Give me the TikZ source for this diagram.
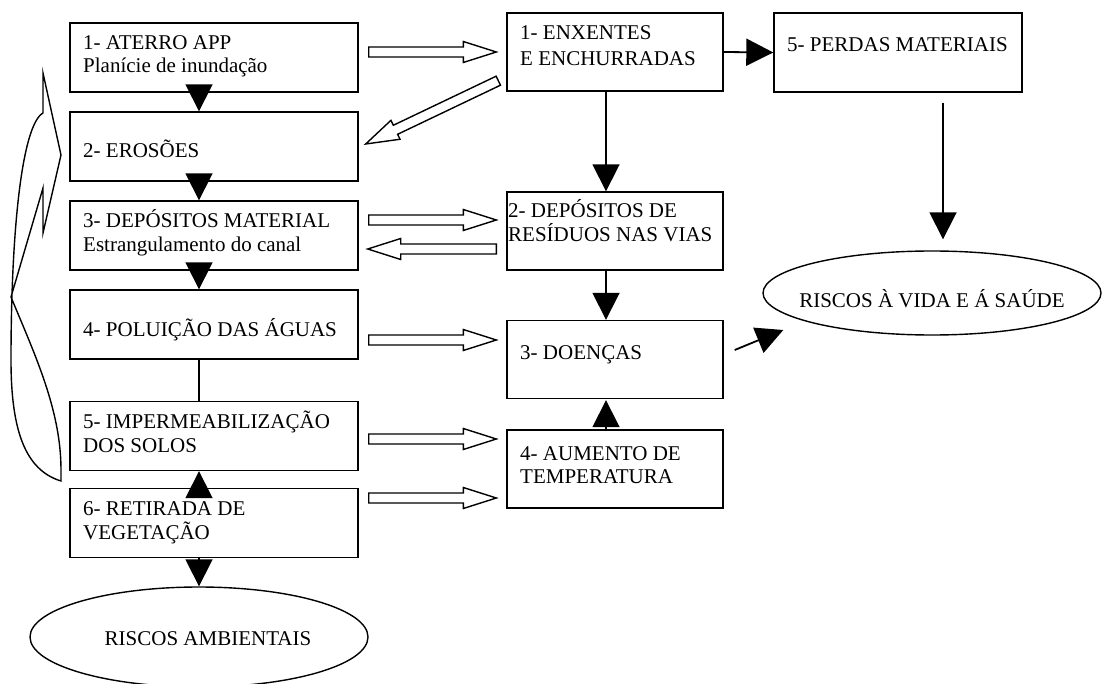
\documentclass[tikz,border=0pt]{standalone}
\usepackage{fontspec}
\setmainfont{Liberation Serif}
\usetikzlibrary{arrows.meta,calc,shapes.geometric}
\newcommand\myharrow[2]{%
  \coordinate (hb) at ($(#2)!33pt!(#1)$);
  \draw[hollow] ($(#1)!5pt!90:(#2)$) -- ($(hb)!5pt!-90:(#1)$) -- ($(hb)!10.5pt!-90:(#1)$) -- (#2)
    -- ($(hb)!10.5pt!90:(#1)$) -- ($(hb)!5pt!90:(#1)$) -- ($(#1)!5pt!-90:(#2)$) -- cycle;}
\begin{document}
\begin{tikzpicture}[x=1pt,y=-1pt,
  lbox/.style={draw,line width=1.4pt,inner sep=0pt,minimum width=288pt,minimum height=69pt},
  mbox/.style={draw,line width=1.4pt,inner sep=0pt,minimum width=216pt,minimum height=78pt},
  oval/.style={draw,line width=1.4pt,ellipse,inner sep=0pt,minimum width=338pt},
  lbl/.style={font=\fontsize{21}{24}\selectfont,inner sep=0pt,anchor=base west},
  clbl/.style={font=\fontsize{21}{24}\selectfont,inner sep=0pt,anchor=base},
  blk/.style={line width=1.8pt,-{Triangle[length=27pt,width=27pt]}},
  hollow/.style={draw,line width=1.4pt,fill=white,line join=miter},
  plain/.style={line width=1.4pt}]
\useasboundingbox (0,0) rectangle (1102,684);

% left column
\node[lbox] (L1) at (214,57.5) {};
\node[lbox] (L2) at (214,146.5) {};
\node[lbox] (L3) at (214,235.5) {};
\node[lbox] (L4) at (214,324.5) {};
\node[lbox] (L5) at (214,436) {};
\node[lbox] (L6) at (214,523) {};
\node[oval,minimum height=100pt] (LE) at (199,637) {};

% middle column
\node[mbox] (M1) at (615,52) {};
\node[mbox] (M2) at (615,231) {};
\node[mbox] (M3) at (615,359.5) {};
\node[mbox] (M4) at (615,469) {};

% right
\node[draw,line width=1.4pt,inner sep=0pt,minimum width=248pt,minimum height=79pt] (R) at (898,52.5) {};
\node[oval,minimum height=84pt] (RE) at (932,293) {};

% texts
\node[lbl] (t1a) at (83,50) {1- ATERRO APP};
\node[lbl] (t1b) at (83,73) {Planície de inundação};
\node[lbl] (t2) at (83,158) {2- EROSÕES};
\node[lbl] (t3a) at (83,228) {3- DEPÓSITOS MATERIAL};
\node[lbl] (t3b) at (83,252) {Estrangulamento do canal};
\node[lbl] (t4) at (83,337) {4- POLUIÇÃO DAS ÁGUAS};
\node[lbl] (t5a) at (83,428) {5- IMPERMEABILIZAÇÃO};
\node[lbl] (t5b) at (83,452) {DOS SOLOS};
\node[lbl] (t6a) at (83,515) {6- RETIRADA DE};
\node[lbl] (t6b) at (83,539) {VEGETAÇÃO};
\node[clbl] (tle) at (208,645) {RISCOS AMBIENTAIS};

\node[lbl] (m1a) at (520,40) {1- ENXENTES};
\node[lbl] (m1b) at (520,66) {E ENCHURRADAS};
\node[lbl] (m2a) at (508,218) {2- DEPÓSITOS DE};
\node[lbl] (m2b) at (508,242) {RESÍDUOS NAS VIAS};
\node[lbl] (m3) at (520,359) {3- DOENÇAS};
\node[lbl] (m4a) at (520,460) {4- AUMENTO DE};
\node[lbl] (m4b) at (520,483) {TEMPERATURA};
\node[lbl] (r1) at (787,52) {5- PERDAS MATERIAIS};
\node[clbl] (tre) at (932,308) {RISCOS À VIDA E Á SAÚDE};

% black arrows, left column
\draw[blk] ($(L1.south)+(-15,-8)$) -- ($(L2.north)+(-15,0)$);
\draw[blk] ($(L2.south)+(-15,-8)$) -- ($(L3.north)+(-15,0)$);
\draw[blk] ($(L3.south)+(-15,-8)$) -- ($(L4.north)+(-15,0)$);
\draw[plain] ($(L4.south)+(-15,0)$) -- ($(L5.north)+(-15,0)$);
\draw[blk] ($(L6.north)+(-15,9)$) -- ($(L5.south)+(-15,0)$);
\draw[blk] ($(L6.south)+(-15,0)$) -- ($(LE.north)+(0,0)$);

% black arrows, middle and right
\draw[blk] ($(M1.south)+(-9,0)$) -- ($(M2.north)+(-9,0)$);
\draw[blk] ($(M2.south)+(-9,0)$) -- ($(M3.north)+(-9,0)$);
\draw[blk] ($(M4.north)+(-9,2)$) -- ($(M3.south)+(-9,1)$);
\draw[blk] (M1.east) -- (R.west);
\draw[blk] ($(R.south)+(45,10)$) -- ($(RE.north)+(11,-11)$);
\draw[blk] ($(M3.east)+(11,-9.5)$) -- ($(RE.west)+(21,37)$);

% hollow arrows
\coordinate (h1s) at ($(L1.east)+(10,-5.5)$);
\coordinate (h1e) at ($(M1.west)+(-10,0)$);
\myharrow{h1s}{h1e}
\coordinate (h2s) at ($(L3.east)+(10,-15.5)$);
\coordinate (h2e) at ($(M2.west)+(-10,-11)$);
\myharrow{h2s}{h2e}
\coordinate (h3s) at ($(M2.west)+(-10,18)$);
\coordinate (h3e) at ($(L3.east)+(9,13.5)$);
\myharrow{h3s}{h3e}
\coordinate (h4s) at ($(L4.east)+(10,15.5)$);
\coordinate (h4e) at ($(M3.west)+(-10,-19.5)$);
\myharrow{h4s}{h4e}
\coordinate (h5s) at ($(L5.east)+(10,3)$);
\coordinate (h5e) at ($(M4.west)+(-10,-30)$);
\myharrow{h5s}{h5e}
\coordinate (h6s) at ($(L6.east)+(10,-25)$);
\coordinate (h6e) at ($(M4.west)+(-10,29)$);
\myharrow{h6s}{h6e}
\coordinate (hds) at ($(M1.south west)+(-8,-11)$);
\coordinate (hde) at ($(L2.east)+(7,-2.5)$);
\myharrow{hds}{hde}

% curved feedback arrow
\draw[plain,line join=miter] (43,73) -- (61,155) -- (43,233) -- (43,188) -- (11,297)
  .. controls (35,355) and (61,410) .. (61,470) -- (61,481)
  .. controls (25,470) and (11,430) .. (11,360)
  .. controls (11,230) and (22,125) .. (43,113) -- cycle;
\end{tikzpicture}
\end{document}
